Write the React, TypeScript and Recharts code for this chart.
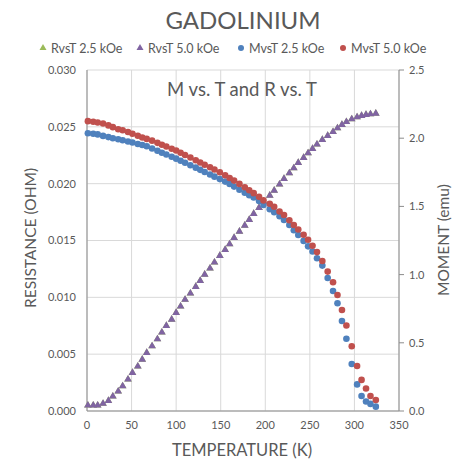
import { CartesianGrid, Label, Scatter, ScatterChart, XAxis, YAxis } from "recharts";

const temps = [
  1, 7, 12, 18, 24, 29, 35, 40, 46, 51, 57, 62, 67, 73, 79, 84, 89, 95, 100, 105,
  110, 116, 122, 127, 132, 138, 143, 149, 155, 160, 165, 171, 177, 182, 187, 193, 198, 205, 210, 216,
  221, 227, 232, 237, 243, 248, 253, 258, 264, 270, 276, 281, 286, 291, 297, 303, 308, 313, 318, 324,
];

const rvsT50 = [
  0.00053, 0.00053, 0.00053, 0.00068, 0.00094, 0.00132, 0.00176, 0.00223, 0.00282, 0.0034,
  0.00396, 0.00457, 0.00516, 0.00575, 0.00636, 0.00695, 0.00754, 0.00809, 0.00868, 0.00924,
  0.00983, 0.01038, 0.01097, 0.0115, 0.01205, 0.01258, 0.01311, 0.0137, 0.01422, 0.01472,
  0.01528, 0.01583, 0.01636, 0.01686, 0.01739, 0.01792, 0.01847, 0.019, 0.01944, 0.01997,
  0.02047, 0.02096, 0.0214, 0.02188, 0.02232, 0.02272, 0.02311, 0.02349, 0.0239, 0.02425,
  0.0246, 0.02492, 0.02522, 0.02548, 0.02571, 0.02589, 0.02601, 0.0261, 0.02615, 0.02621,
];

// the 2.5 kOe resistance run sits almost exactly under the 5.0 kOe one
const rvsT25 = [
  0.00053, 0.00053, 0.00053, 0.00068, 0.00094, 0.00132, 0.00176, 0.00223, 0.00282, 0.0034,
  0.00396, 0.00457, 0.00516, 0.00575, 0.00636, 0.00695, 0.00754, 0.00809, 0.00868, 0.00924,
  0.00983, 0.01038, 0.01097, 0.0115, 0.01205, 0.01258, 0.01311, 0.0137, 0.01422, 0.01472,
  0.01528, 0.01583, 0.01636, 0.01686, 0.01739, 0.01792, 0.01847, 0.019, 0.01944, 0.01997,
  0.02047, 0.02096, 0.0214, 0.02188, 0.02232, 0.02272, 0.02311, 0.02349, 0.0239, 0.02425,
  0.0246, 0.02492, 0.02522, 0.02548, 0.02571, 0.02589, 0.02601, 0.0261, 0.02615, 0.02621,
];

const mvsT25 = [
  2.036, 2.033, 2.028, 2.017, 2.008, 2.0, 1.992, 1.985, 1.976, 1.968,
  1.958, 1.95, 1.941, 1.925, 1.908, 1.893, 1.88, 1.864, 1.85, 1.835,
  1.82, 1.802, 1.784, 1.768, 1.752, 1.734, 1.718, 1.7, 1.682, 1.664,
  1.645, 1.622, 1.6, 1.582, 1.565, 1.54, 1.51, 1.48, 1.458, 1.428,
  1.4, 1.364, 1.325, 1.29, 1.247, 1.207, 1.169, 1.12, 1.066, 0.975,
  0.88, 0.79, 0.66, 0.53, 0.345, 0.195, 0.11, 0.07, 0.052, 0.032,
];

const mvsT50 = [
  2.125, 2.121, 2.115, 2.108, 2.094, 2.081, 2.066, 2.058, 2.045, 2.033,
  2.018, 2.005, 1.995, 1.982, 1.966, 1.952, 1.939, 1.923, 1.91, 1.893,
  1.877, 1.858, 1.838, 1.822, 1.805, 1.787, 1.77, 1.75, 1.728, 1.708,
  1.689, 1.665, 1.64, 1.618, 1.597, 1.57, 1.544, 1.519, 1.497, 1.463,
  1.437, 1.398, 1.364, 1.331, 1.292, 1.255, 1.212, 1.165, 1.1, 1.022,
  0.944, 0.85, 0.74, 0.627, 0.475, 0.33, 0.228, 0.165, 0.11, 0.081,
];

const xTicks = [0, 50, 100, 150, 200, 250, 300, 350];
const leftTicks = [0, 0.005, 0.01, 0.015, 0.02, 0.025, 0.03];
const rightTicks = [0, 0.5, 1, 1.5, 2, 2.5];

const FONT = "Lato, 'Open Sans', sans-serif";
const TEXT = "#595959";
const AXIS = "#8c8c8c";

const GREEN = "#9bbb59";
const PURPLE = "#8064a2";
const BLUE = "#4f81bd";
const RED = "#c0504d";

const toPoints = (vals: number[]) => temps.map((t, i) => ({ t, v: vals[i] }));

const triangle = (color: string) => (p: any) => (
  <polygon
    points={`${p.cx},${p.cy - 4} ${p.cx - 3.8},${p.cy + 2.6} ${p.cx + 3.8},${p.cy + 2.6}`}
    fill={color}
  />
);
const dot = (color: string) => (p: any) => <circle cx={p.cx} cy={p.cy} r={3.3} fill={color} />;

const legend = [
  { name: "RvsT 2.5 kOe", color: GREEN, tri: true, x: 43 },
  { name: "RvsT 5.0 kOe", color: PURPLE, tri: true, x: 140 },
  { name: "MvsT 2.5 kOe", color: BLUE, tri: false, x: 241 },
  { name: "MvsT 5.0 kOe", color: RED, tri: false, x: 343 },
];

export default function App() {
  return (
    <div style={{ position: "absolute", left: 0, top: 0, width: 466, height: 462, background: "#fff", fontFamily: FONT }}>
      <ScatterChart width={466} height={462} margin={{ top: 70, right: 0, bottom: 0, left: 0 }}>
        <CartesianGrid yAxisId="left" stroke="#d9d9d9" />
        <XAxis
          type="number"
          dataKey="t"
          domain={[0, 350]}
          ticks={xTicks}
          height={51}
          tickLine={false}
          tickMargin={4}
          axisLine={{ stroke: AXIS }}
          tick={{ fill: TEXT, fontSize: 11, fontFamily: FONT }}
        >
          <Label
            content={() => (
              <text x={242} y={456} textAnchor="middle" fill={TEXT} fontSize={16.5} fontFamily={FONT}>
                TEMPERATURE (K)
              </text>
            )}
          />
        </XAxis>
        <YAxis
          yAxisId="left"
          type="number"
          dataKey="v"
          domain={[0, 0.03]}
          ticks={leftTicks}
          width={87}
          tickLine={false}
          tickMargin={5}
          axisLine={{ stroke: AXIS }}
          tickFormatter={(v: number) => v.toFixed(3)}
          tick={{ fill: TEXT, fontSize: 11, fontFamily: FONT }}
        >
          <Label
            content={() => (
              <text
                x={36}
                y={238}
                transform="rotate(-90 36 238)"
                textAnchor="middle"
                fill={TEXT}
                fontSize={15.5}
                fontFamily={FONT}
              >
                RESISTANCE (OHM)
              </text>
            )}
          />
        </YAxis>
        <YAxis
          yAxisId="right"
          orientation="right"
          type="number"
          dataKey="v"
          domain={[0, 2.5]}
          ticks={rightTicks}
          width={67}
          tickSize={5}
          tickMargin={5}
          tickLine={{ stroke: AXIS }}
          axisLine={{ stroke: AXIS }}
          tickFormatter={(v: number) => v.toFixed(1)}
          tick={{ fill: TEXT, fontSize: 11, fontFamily: FONT }}
        >
          <Label
            content={() => (
              <text
                x={449}
                y={240}
                transform="rotate(-90 449 240)"
                textAnchor="middle"
                fill={TEXT}
                fontSize={15.5}
                fontFamily={FONT}
              >
                MOMENT (emu)
              </text>
            )}
          />
        </YAxis>
        <Scatter yAxisId="left" data={toPoints(rvsT25)} fill={GREEN} shape={triangle(GREEN)} isAnimationActive={false} />
        <Scatter yAxisId="left" data={toPoints(rvsT50)} fill={PURPLE} shape={triangle(PURPLE)} isAnimationActive={false} />
        <Scatter yAxisId="right" data={toPoints(mvsT25)} fill={BLUE} shape={dot(BLUE)} isAnimationActive={false} />
        <Scatter yAxisId="right" data={toPoints(mvsT50)} fill={RED} shape={dot(RED)} isAnimationActive={false} />
      </ScatterChart>
      <svg width={466} height={462} style={{ position: "absolute", left: 0, top: 0, pointerEvents: "none" }}>
        <text x={243} y={29} textAnchor="middle" fill={TEXT} fontSize={24} fontFamily={FONT}>
          GADOLINIUM
        </text>
        <text x={242} y={96} textAnchor="middle" fill={TEXT} fontSize={18.5} fontFamily={FONT}>
          M vs. T and R vs. T
        </text>
        {legend.map((l) => (
          <g key={l.name}>
            {l.tri ? (
              <polygon points={`${l.x},${44} ${l.x - 3.5},${50} ${l.x + 3.5},${50}`} fill={l.color} />
            ) : (
              <circle cx={l.x} cy={48} r={3} fill={l.color} />
            )}
            <text x={l.x + 8} y={52.5} fill={TEXT} fontSize={12.5} fontFamily={FONT}>
              {l.name}
            </text>
          </g>
        ))}
      </svg>
    </div>
  );
}
